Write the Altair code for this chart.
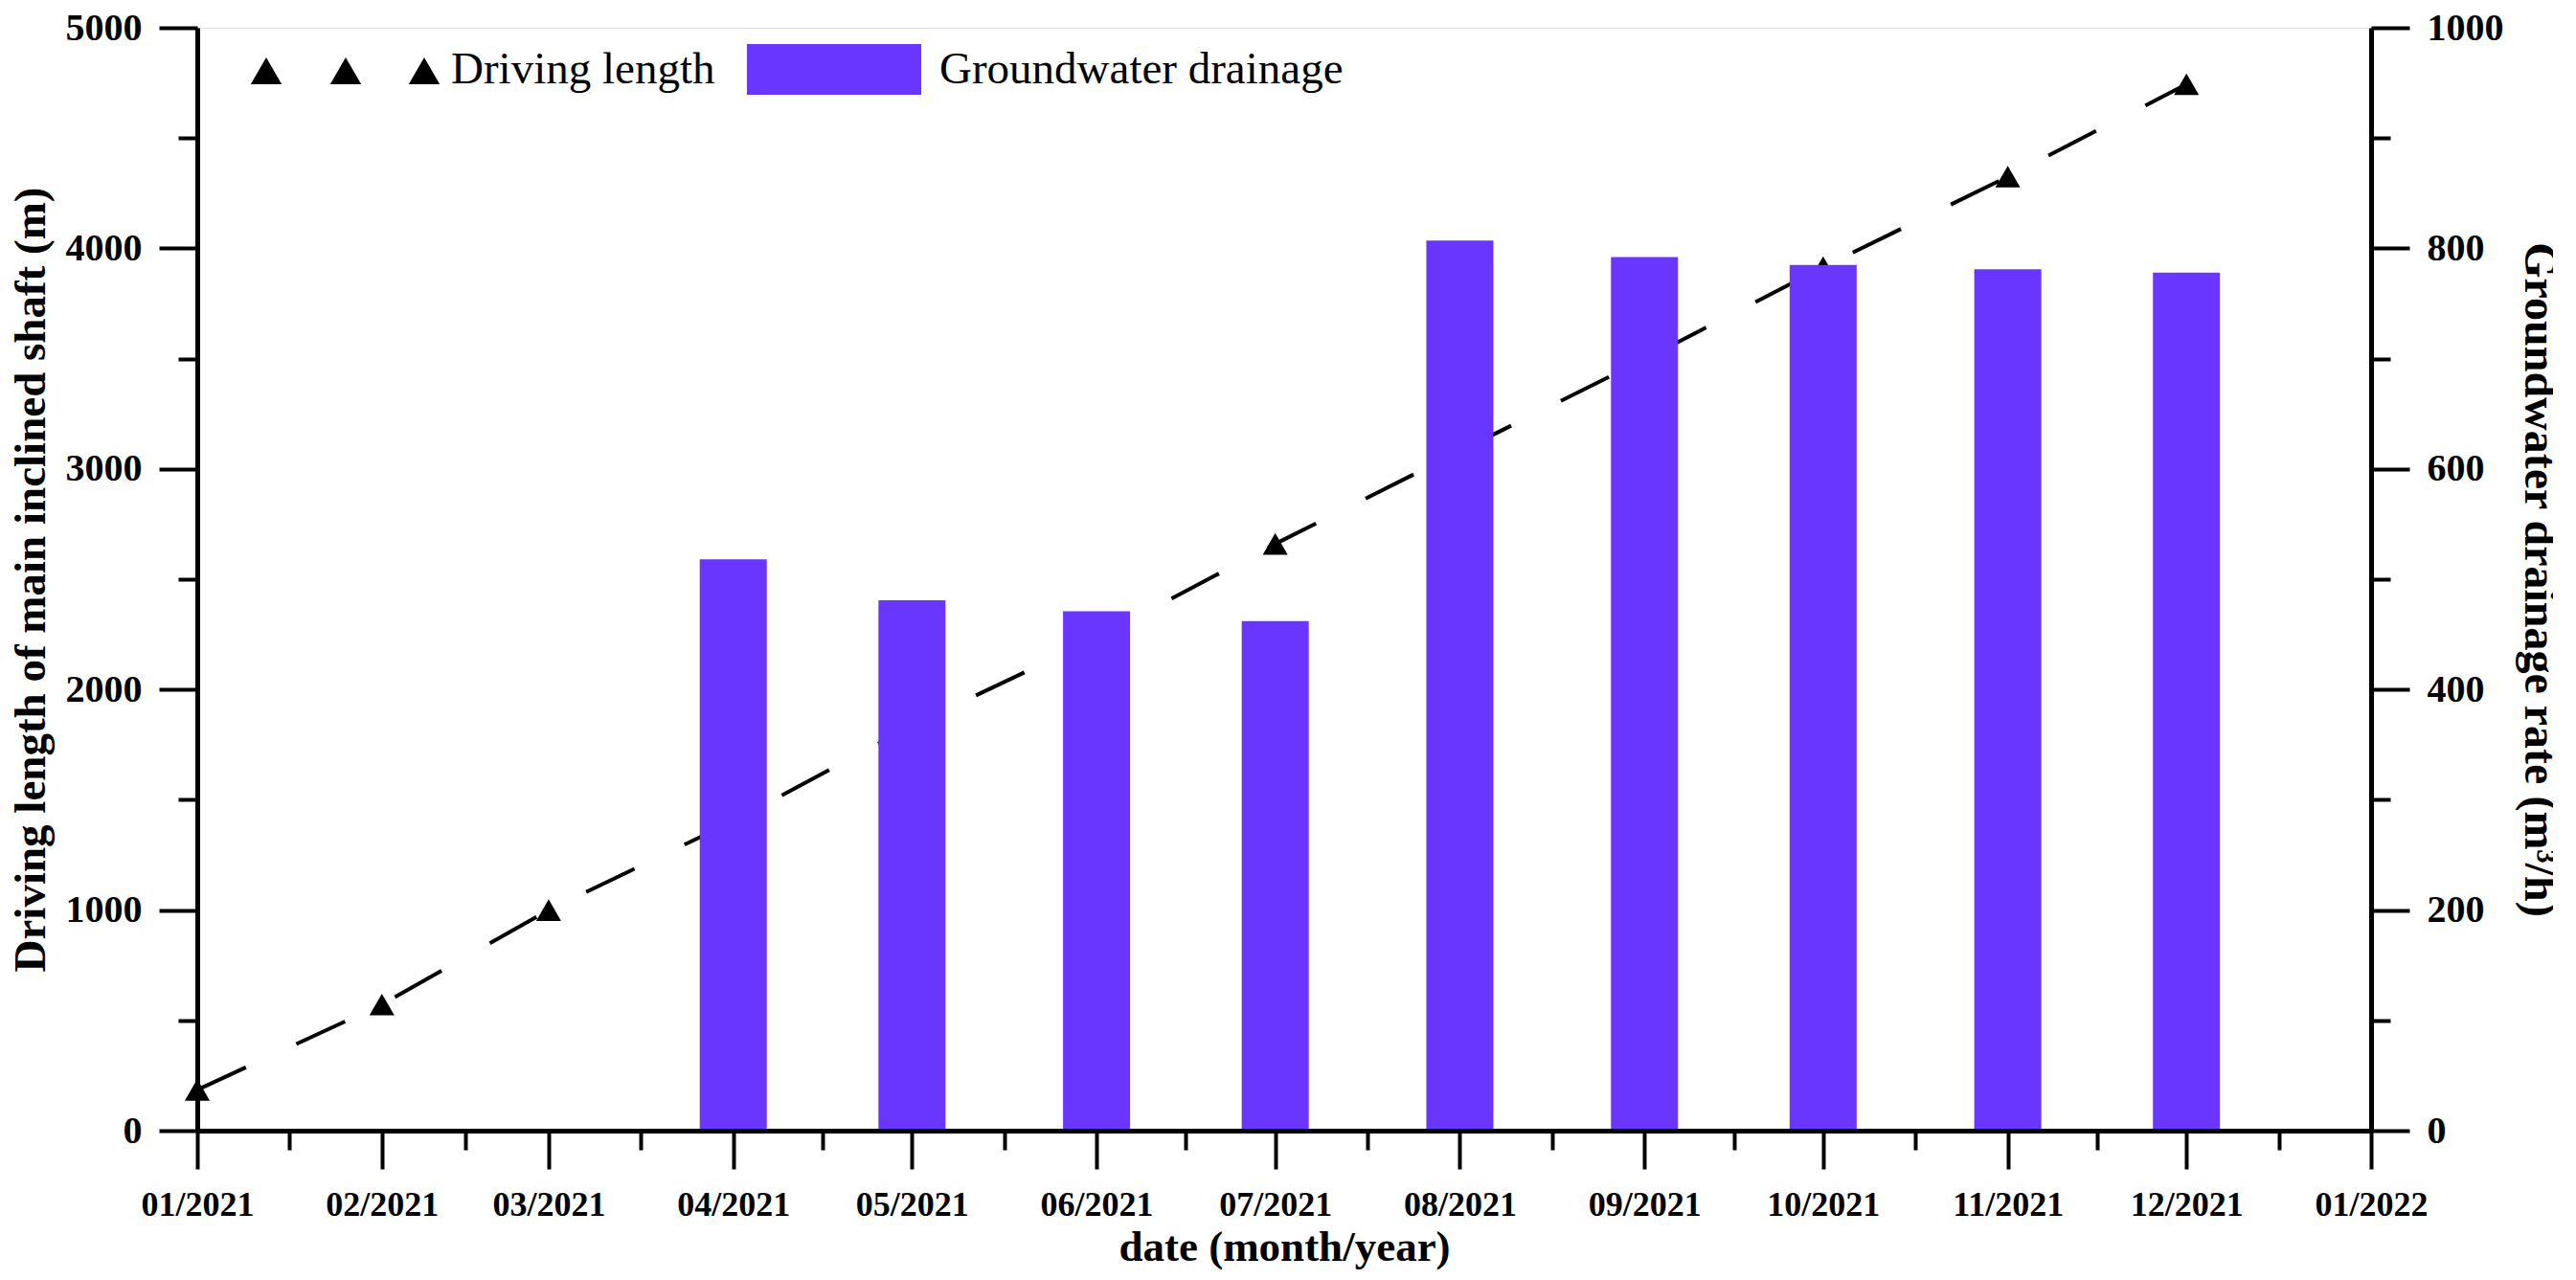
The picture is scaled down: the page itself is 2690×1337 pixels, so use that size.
import datetime as dt
import altair as alt
import pandas as pd

# ---- data ----
months = ["2021-01-01", "2021-02-01", "2021-03-01", "2021-04-01", "2021-05-01", "2021-06-01",
          "2021-07-01", "2021-08-01", "2021-09-01", "2021-10-01", "2021-11-01", "2021-12-01"]
driving_length = [185, 572, 1000, 1403, 1835, 2233, 2660, 3080, 3497, 3915, 4325, 4744]
drainage_rate = [None, None, None, 518, 481, 471, 462, 807, 792, 785, 781, 778]

legend_labels = ["Driving length", "Groundwater drainage"]
x_title = "date (month/year)"
y_left_title = "Driving length of main inclined shaft (m)"
y_right_title = "Groundwater drainage rate (m\u00b3/h)"

df = pd.DataFrame({
    "date": [m + "T00:00:00" for m in months],
    "length": driving_length,
    "rate": drainage_rate,
})
df_bar = df.dropna(subset=["rate"])

FONT = "Liberation Serif"
BAR_COLOR = "#6936FF"

# tick positions: month starts (major) + mid-month (minor)
starts = [dt.datetime(2021, m, 1) for m in range(1, 13)] + [dt.datetime(2022, 1, 1)]
mids = [a + (b - a) / 2 for a, b in zip(starts[:-1], starts[1:])]


def to_dt(d):
    return alt.DateTime(year=d.year, month=d.month, date=d.day, hours=d.hour)


x_ticks = [to_dt(d) for d in starts + mids]

common_axis = dict(
    domainColor="black", domainWidth=5, tickColor="black", tickWidth=4,
    labelFont=FONT, labelFontWeight="bold", labelColor="black",
    titleFont=FONT, titleFontWeight="bold", titleColor="black",
    grid=False, labelFlush=False, labelOverlap=False, zindex=1,
)

x_enc = alt.X(
    "date:T",
    scale=alt.Scale(domain=[to_dt(starts[0]), to_dt(starts[-1])], nice=False, padding=0),
    axis=alt.Axis(
        values=x_ticks,
        labelExpr="date(datum.value) === 1 ? timeFormat(datum.value, '%m/%Y') : ''",
        tickSize={"condition": {"test": "date(datum.value) === 1", "value": 40}, "value": 20},
        labelFontSize=36, labelPadding=20, title=x_title, titlePadding=4, titleFontSize=45,
        **common_axis,
    ),
)

line = alt.Chart(df).mark_line(color="black", strokeWidth=4, strokeDash=[56, 58]).encode(
    x=x_enc,
    y=alt.Y(
        "length:Q",
        scale=alt.Scale(domain=[0, 5000], nice=False),
        axis=alt.Axis(
            orient="left",
            values=list(range(0, 5001, 500)),
            format="d",
            labelExpr="datum.value % 1000 === 0 ? datum.label : ''",
            tickSize={"condition": {"test": "datum.value % 1000 === 0", "value": 40}, "value": 20},
            labelFontSize=40, labelPadding=18, title=y_left_title, titlePadding=12, titleFontSize=47,
            **common_axis,
        ),
    ),
)
points = alt.Chart(df).mark_point(shape="triangle-up", filled=True, size=680, color="black", opacity=1).encode(
    x=alt.X("date:T"),
    y=alt.Y("length:Q"),
)

bars = alt.Chart(df_bar).mark_bar(size=70, color=BAR_COLOR).encode(
    x=alt.X("date:T"),
    y=alt.Y(
        "rate:Q",
        scale=alt.Scale(domain=[0, 1000], nice=False),
        axis=alt.Axis(
            orient="right",
            values=list(range(0, 1001, 100)),
            format="d",
            labelExpr="datum.value % 200 === 0 ? datum.label : ''",
            tickSize={"condition": {"test": "datum.value % 200 === 0", "value": 40}, "value": 20},
            labelFontSize=40, labelPadding=18, title=y_right_title, titlePadding=12, titleFontSize=48,
            **common_axis,
        ),
    ),
)

# ---- custom legend (pixel positions inside the plot area) ----
leg_line = pd.DataFrame({"label": [legend_labels[0]]})
leg_bar = pd.DataFrame({"label": [legend_labels[1]]})

leg_tris = [
    alt.Chart(leg_line).mark_point(shape="triangle-up", filled=True, size=1050, color="black", opacity=1)
    .encode(x=alt.value(px), y=alt.value(45))
    for px in (72, 155, 237)
]
leg_text1 = alt.Chart(leg_line).mark_text(
    align="left", baseline="alphabetic", font=FONT, fontSize=47, color="black"
).encode(x=alt.value(265), y=alt.value(58), text="label:N")
leg_rect = alt.Chart(leg_bar).mark_rect(color=BAR_COLOR).encode(
    x=alt.value(574), x2=alt.value(756), y=alt.value(17), y2=alt.value(70)
)
leg_text2 = alt.Chart(leg_bar).mark_text(
    align="left", baseline="alphabetic", font=FONT, fontSize=47, color="black"
).encode(x=alt.value(775), y=alt.value(58), text="label:N")

main = alt.layer(alt.layer(line, points), bars).resolve_scale(y="independent")

chart = alt.layer(main, *leg_tris, leg_text1, leg_rect, leg_text2).properties(
    width=2270,
    height=1152,
    autosize=alt.AutoSizeParams(type="none"),
    padding={"left": 198, "top": 21, "right": 190, "bottom": 146},
).configure_view(strokeWidth=0).configure(background="white")

chart.save("out.html", embed_options={"renderer": "svg", "actions": False})
